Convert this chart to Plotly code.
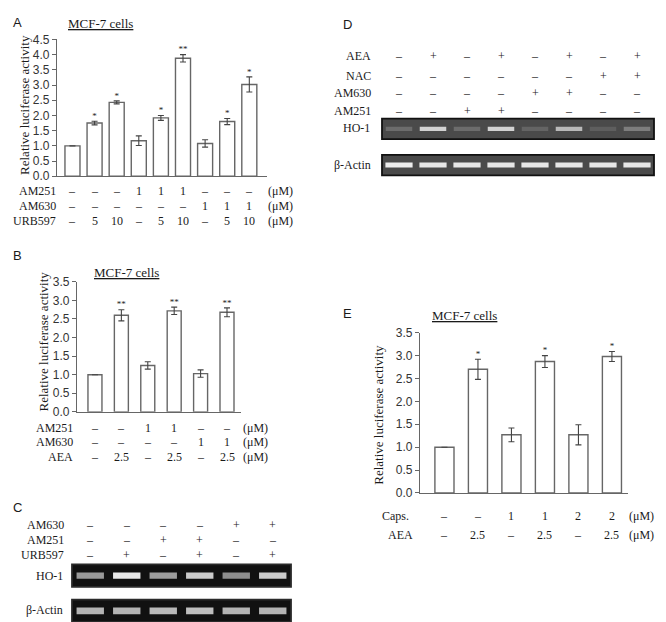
import plotly.graph_objects as go

W, H = 666, 622

# ---- panel A: luciferase, URB597 +/- antagonists ----
a_values = [1.0, 1.75, 2.43, 1.17, 1.92, 3.88, 1.08, 1.80, 3.02]
a_errors = [0.0, 0.06, 0.05, 0.16, 0.08, 0.12, 0.12, 0.10, 0.25]
a_stars = ["", "*", "*", "", "*", "**", "", "*", "*"]
a_am251 = ["–", "–", "–", "1", "1", "1", "–", "–", "–"]
a_am630 = ["–", "–", "–", "–", "–", "–", "1", "1", "1"]
a_urb597 = ["–", "5", "10", "–", "5", "10", "–", "5", "10"]

# ---- panel B: luciferase, AEA +/- antagonists ----
b_values = [1.0, 2.60, 1.25, 2.72, 1.03, 2.68]
b_errors = [0.0, 0.15, 0.10, 0.10, 0.10, 0.12]
b_stars = ["", "**", "", "**", "", "**"]
b_am251 = ["–", "–", "1", "1", "–", "–"]
b_am630 = ["–", "–", "–", "–", "1", "1"]
b_aea = ["–", "2.5", "–", "2.5", "–", "2.5"]

# ---- panel E: luciferase, AEA +/- capsazepine ----
e_values = [1.0, 2.70, 1.27, 2.87, 1.27, 2.98]
e_errors = [0.0, 0.22, 0.15, 0.13, 0.22, 0.11]
e_stars = ["", "*", "", "*", "", "*"]
e_caps = ["–", "–", "1", "1", "2", "2"]
e_aea = ["–", "2.5", "–", "2.5", "–", "2.5"]

# ---- panel C: RT-PCR gel (band brightness 0-1) ----
c_am630 = ["–", "–", "–", "–", "+", "+"]
c_am251 = ["–", "–", "+", "+", "–", "–"]
c_urb597 = ["–", "+", "–", "+", "–", "+"]
c_ho1 = [0.6, 0.95, 0.62, 0.82, 0.55, 0.82]
c_actin = [0.72, 0.72, 0.74, 0.76, 0.72, 0.72]

# ---- panel D: RT-PCR gel (band brightness 0-1) ----
d_aea = ["–", "+", "–", "+", "–", "+", "–", "+"]
d_nac = ["–", "–", "–", "–", "–", "–", "+", "+"]
d_am630 = ["–", "–", "–", "–", "+", "+", "–", "–"]
d_am251 = ["–", "–", "+", "+", "–", "–", "–", "–"]
d_ho1 = [0.2, 0.8, 0.2, 0.8, 0.15, 0.65, 0.12, 0.3]
d_actin = [0.95, 0.92, 0.92, 0.92, 0.92, 0.92, 0.92, 0.92]

INK = "#1a1a1a"
LINE = "#666666"
SERIF = dict(family="Liberation Serif, Times New Roman, serif", size=12, color=INK)
SANS = dict(family="Liberation Sans, Arial, sans-serif", size=12, color="#333333")


def px(x):
    return x / W


def py(y):
    return 1 - y / H


fig = go.Figure()
layout = {}


def bar_panel(n, values, errors, stars, bar_w, xdom, ydom, xrange, ymax):
    sfx = "" if n == 1 else str(n)
    xs = list(range(len(values)))
    fig.add_trace(go.Bar(
        x=xs, y=values, width=bar_w,
        marker=dict(color="white", line=dict(color=LINE, width=1.4)),
        error_y=dict(type="data", array=errors, color="#444444", thickness=1.1, width=3),
        xaxis="x" + sfx, yaxis="y" + sfx, showlegend=False
    ))
    fig.add_trace(go.Scatter(
        x=xs, y=[v + e for v, e in zip(values, errors)], text=stars,
        mode="text", textposition="top center",
        textfont=dict(family="Liberation Serif", size=9, color=INK),
        xaxis="x" + sfx, yaxis="y" + sfx, showlegend=False
    ))
    layout["xaxis" + sfx] = dict(
        domain=[px(xdom[0]), px(xdom[1])], range=xrange, anchor="y" + sfx,
        showline=True, linecolor=LINE, linewidth=1.4, showticklabels=False,
        ticks="", showgrid=False, zeroline=False
    )
    layout["yaxis" + sfx] = dict(
        domain=[py(ydom[0]), py(ydom[1])], range=[0, ymax], anchor="x" + sfx,
        showline=True, linecolor=LINE, linewidth=1.4, ticks="outside",
        ticklen=4, tickcolor=LINE, dtick=0.5, tickformat=".1f",
        tickfont=SANS, showgrid=False, zeroline=False
    )


def gel_panel(n, intensities, band_w, band_h, xdom, ydom, bg, border):
    sfx = str(n)
    xs = list(range(len(intensities)))
    fig.add_trace(go.Bar(
        x=xs, y=[band_h] * len(xs), base=0.5 - band_h / 2, width=band_w,
        marker=dict(color=intensities, colorscale=[[0, bg], [1, "#f4f4f4"]],
                    cmin=0, cmax=1, line=dict(width=0)),
        xaxis="x" + sfx, yaxis="y" + sfx, showlegend=False
    ))
    layout["xaxis" + sfx] = dict(
        domain=[px(xdom[0]), px(xdom[1])], range=[-0.5, len(xs) - 0.5],
        anchor="y" + sfx, visible=False
    )
    layout["yaxis" + sfx] = dict(
        domain=[py(ydom[0]), py(ydom[1])], range=[0, 1],
        anchor="x" + sfx, visible=False
    )
    fig.add_shape(type="rect", xref="x%s domain" % sfx, yref="y%s domain" % sfx,
                  x0=0, x1=1, y0=0, y1=1, layer="below",
                  fillcolor=bg, line=dict(color=border, width=1.8))


def row(xref, label, cells, y, label_right, unit_left=None):
    fig.add_annotation(text=label, xref="paper", yref="paper", x=px(label_right), y=py(y),
                       xanchor="right", yanchor="middle", showarrow=False, font=SERIF)
    for i, t in enumerate(cells):
        fig.add_annotation(text=t, xref=xref, yref="paper", x=i, y=py(y),
                           xanchor="center", yanchor="middle", showarrow=False, font=SERIF)
    if unit_left is not None:
        fig.add_annotation(text="(μM)", xref="paper", yref="paper", x=px(unit_left), y=py(y),
                           xanchor="left", yanchor="middle", showarrow=False, font=SERIF)


def note(text, x, y, font, angle=0, anchor="center"):
    fig.add_annotation(text=text, xref="paper", yref="paper", x=px(x), y=py(y),
                       xanchor=anchor, yanchor="middle", showarrow=False,
                       font=font, textangle=angle)


# bar charts
bar_panel(1, a_values, a_errors, a_stars, 0.68, (49, 259), (165, 25), [-0.7, 8.8], 4.5)
bar_panel(2, b_values, b_errors, b_stars, 0.53, (69, 233), (406, 273), [-0.68, 5.53], 3.5)
bar_panel(3, e_values, e_errors, e_stars, 0.57, (412, 620), (489, 325), [-0.73, 5.48], 3.5)

# gels
gel_panel(4, c_ho1, 0.75, 0.28, (64, 283), (585, 562), "#111111", "#2a2a2a")
gel_panel(5, c_actin, 0.75, 0.3, (64, 283), (621, 598), "#111111", "#2a2a2a")
gel_panel(6, d_ho1, 0.78, 0.2, (374, 646), (127, 106), "#4a4a4a", "#111111")
gel_panel(7, d_actin, 0.8, 0.24, (374, 646), (164, 143), "#4a4a4a", "#111111")

# table rows
row("x", "AM251", a_am251, 180, 50, 258)
row("x", "AM630", a_am630, 195, 50, 258)
row("x", "URB597", a_urb597, 211, 50, 258)

row("x2", "AM251", b_am251, 422, 67, 233)
row("x2", "AM630", b_am630, 437, 67, 233)
row("x2", "AEA", b_aea, 452, 67, 233)

row("x3", "Caps.", e_caps, 513, 403, 619)
row("x3", "AEA", e_aea, 532, 407, 619)

row("x4", "AM630", c_am630, 522, 58)
row("x4", "AM251", c_am251, 537, 58)
row("x4", "URB597", c_urb597, 552, 58)
note("HO-1", 57, 574, SERIF, anchor="right")
note("β-Actin", 57, 609, SERIF, anchor="right")

row("x6", "AEA", d_aea, 42, 365)
row("x6", "NAC", d_nac, 62, 365)
row("x6", "AM630", d_am630, 80, 365)
row("x6", "AM251", d_am251, 98, 365)
note("HO-1", 364, 116, SERIF, anchor="right")
note("β-Actin", 365, 153, SERIF, anchor="right")

# panel letters, titles, y titles
LETTER = dict(family="Liberation Sans, Arial, sans-serif", size=13, color=INK)
note("A", 3, 8, LETTER, anchor="left")
note("B", 3, 246, LETTER, anchor="left")
note("C", 3, 504, LETTER, anchor="left")
note("D", 333, 10, LETTER, anchor="left")
note("E", 333, 305, LETTER, anchor="left")

TITLE = dict(family="Liberation Serif, Times New Roman, serif", size=13, color=INK)
note("<u>MCF-7 cells</u>", 92, 9, TITLE)
note("<u>MCF-7 cells</u>", 118, 263, TITLE)
note("<u>MCF-7 cells</u>", 456, 307, TITLE)

note("Relative luciferase activity", 17, 92, TITLE, angle=-90)
note("Relative luciferase activity", 35, 334, TITLE, angle=-90)
note("Relative luciferase activity", 371, 409, TITLE, angle=-90)

fig.update_layout(
    width=W, height=H,
    margin=dict(l=0, r=0, t=0, b=0),
    paper_bgcolor="white", plot_bgcolor="rgba(0,0,0,0)",
    showlegend=False, barmode="overlay",
    **layout
)

fig.write_html("out.html")
